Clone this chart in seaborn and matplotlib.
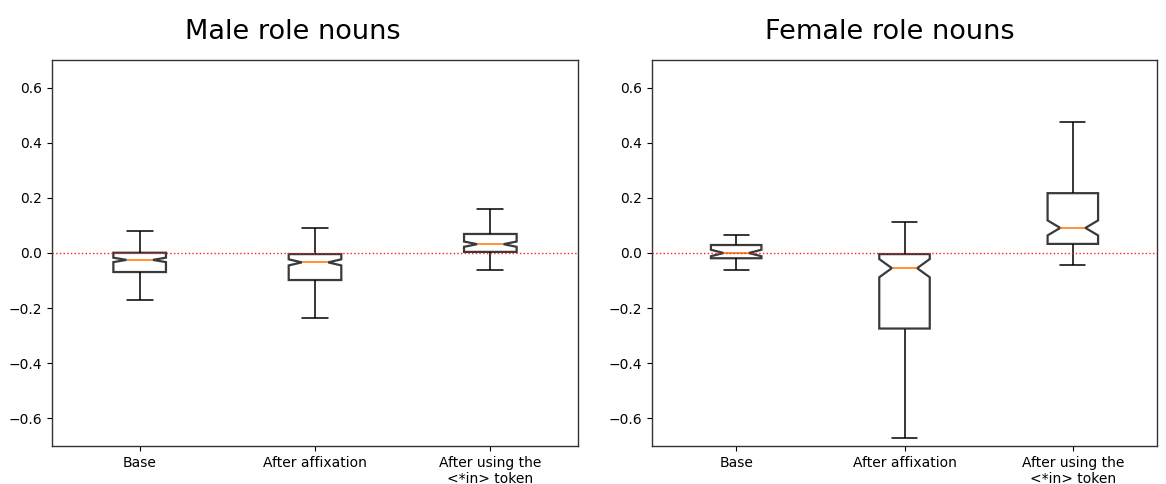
import seaborn as sns
import matplotlib.pyplot as plt
import pandas as pd

# Data: five-number summaries per box and the group size
# (the size is inferred from the notch width)
stages = ['Base', 'After affixation', 'After using the\n<*in> token']

male_min = [-0.172, -0.236, -0.060]
male_q1 = [-0.069, -0.098, 0.004]
male_median = [-0.025, -0.034, 0.032]
male_q3 = [0.001, -0.004, 0.069]
male_max = [0.081, 0.092, 0.160]
male_n = [189, 177, 113]

female_min = [-0.063, -0.670, -0.045]
female_q1 = [-0.019, -0.274, 0.033]
female_median = [0.000, -0.055, 0.091]
female_q3 = [0.029, -0.004, 0.217]
female_max = [0.066, 0.114, 0.476]
female_n = [41, 165, 113]


def build_frame(mins, q1s, meds, q3s, maxs, ns):
    # seaborn wants raw observations, so lay out n values whose
    # min / quartiles / median / max are the ones read from the chart
    rows = []
    for stage, lo, q1, med, q3, hi, n in zip(stages, mins, q1s, meds, q3s, maxs, ns):
        k = (n - 1) // 4
        vals = [lo] + [q1] * k + [med] * k + [q3] * k + [hi] * k
        rows += [(stage, v) for v in vals]
    return pd.DataFrame(rows, columns=['stage', 'value'])


df_male = build_frame(male_min, male_q1, male_median, male_q3, male_max, male_n)
df_female = build_frame(female_min, female_q1, female_median, female_q3, female_max, female_n)

sns.set_style('ticks', {'text.color': 'black', 'xtick.color': 'black',
                        'ytick.color': 'black', 'axes.labelcolor': 'black'})
plt.rcParams['font.family'] = ['DejaVu Sans']

fig = plt.figure(figsize=(11.66, 4.84), dpi=100)
W, H = 1166, 484
ax1 = fig.add_axes([52 / W, (H - 446) / H, 526 / W, 386 / H])
ax2 = fig.add_axes([652 / W, (H - 446) / H, 505 / W, 386 / H])

for ax, df, title, tx in zip([ax1, ax2], [df_male, df_female],
                             ['Male role nouns', 'Female role nouns'], [0.458, 0.471]):
    sns.boxplot(data=df, x='stage', y='value', order=stages, ax=ax,
                notch=True, width=0.3, whis=1.5, showfliers=False,
                color='white', linecolor='#3a3a3a', linewidth=1.6,
                whiskerprops={'color': 'black', 'linewidth': 1.1},
                capprops={'color': 'black', 'linewidth': 1.1},
                medianprops={'color': '#ff7f0e', 'linewidth': 1.2})
    ax.axhline(0, color='#ff2020', linestyle=':', linewidth=1.0, zorder=5)
    ax.set_ylim(-0.7, 0.7)
    ax.set_yticks([-0.6, -0.4, -0.2, 0.0, 0.2, 0.4, 0.6])
    ax.set_xlabel('')
    ax.set_ylabel('')
    ax.set_title(title, fontsize=19.5, pad=15, x=tx, color='black')
    ax.tick_params(labelsize=10, colors='black')
    for sp in ax.spines.values():
        sp.set_visible(True)
        sp.set_color('#333333')
        sp.set_linewidth(1.0)

plt.savefig('out.png', dpi=100)
